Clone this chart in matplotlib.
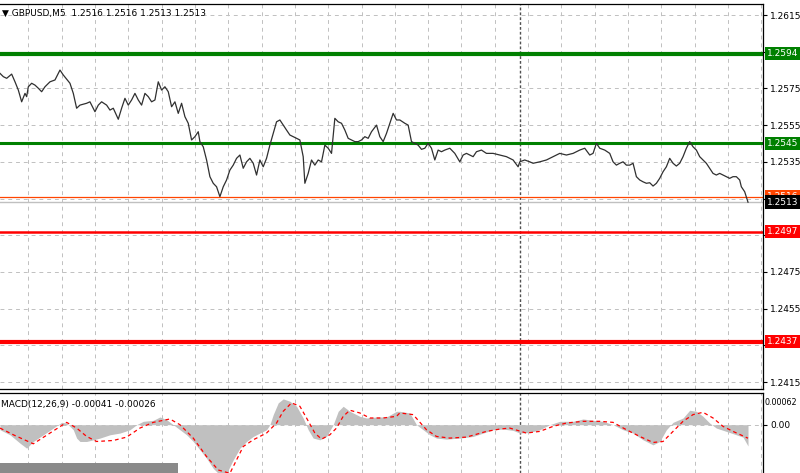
import matplotlib
matplotlib.use("Agg")
import matplotlib.pyplot as plt
from matplotlib.transforms import blended_transform_factory
from matplotlib.patches import Rectangle

# GBPUSD M5 close prices (bar index, price)
price_bar = [0, 2, 4, 7, 9, 11, 13, 15, 16, 17, 19, 21, 23, 25, 27, 30, 33, 34, 36, 38,
             42, 44, 46, 48, 52, 54, 57, 59, 61, 64, 66, 68, 71, 73, 75, 77, 79, 81, 83, 85,
             87, 89, 91, 93, 95, 97, 99, 101, 103, 105, 107, 109, 111, 113, 115, 117, 119, 120, 122, 124,
             126, 128, 130, 132, 134, 136, 138, 140, 142, 144, 146, 148, 150, 152, 154, 156, 158, 160, 162, 164,
             166, 168, 170, 172, 174, 176, 178, 180, 182, 183, 185, 187, 189, 191, 193, 195, 197, 199, 201, 203,
             205, 207, 209, 211, 213, 215, 217, 219, 221, 223, 226, 228, 230, 232, 234, 236, 238,
             240, 243, 245, 247, 249, 251, 253, 255, 257, 259, 261, 263, 265, 267, 270, 273, 276, 278, 280, 282,
             284, 286, 289, 292, 296, 300, 304, 308, 311, 312, 315, 318, 320, 324, 328, 332, 336, 340, 344, 348,
             351, 354, 356, 358, 360, 363, 366, 368, 370, 372, 374, 376, 378, 380, 382, 384, 386, 388, 390, 392,
             394, 396, 398, 400, 402, 404, 406, 408, 410, 412, 414, 416, 418, 420, 422, 424, 426, 428, 430, 432,
             434, 436, 438, 440, 442, 444, 445, 447, 449]
price = [1.25832, 1.25814, 1.25805, 1.25828, 1.25786, 1.25741, 1.25677, 1.25723, 1.25705, 1.25759,
         1.25778, 1.25768, 1.25751, 1.25732, 1.25759, 1.25786, 1.25796, 1.25814, 1.25850, 1.25823,
         1.25778, 1.25723, 1.25642, 1.25659, 1.25669, 1.25677, 1.25623, 1.25659, 1.25677, 1.25659,
         1.25632, 1.25642, 1.25582, 1.25642, 1.25696, 1.25659, 1.25687, 1.25723, 1.25687, 1.25659,
         1.25723, 1.25705, 1.25677, 1.25687, 1.25786, 1.25741, 1.25759, 1.25732, 1.25650, 1.25677,
         1.25614, 1.25669, 1.25596, 1.25560, 1.25469, 1.25487, 1.25514, 1.25460, 1.25432, 1.25360,
         1.25269, 1.25233, 1.25214, 1.25160, 1.25214, 1.25251, 1.25305, 1.25332, 1.25369, 1.25387,
         1.25315, 1.25350, 1.25369, 1.25342, 1.25278, 1.25360, 1.25323, 1.25369, 1.25441, 1.25505,
         1.25568, 1.25578, 1.25550, 1.25523, 1.25496, 1.25487, 1.25478, 1.25469, 1.25378, 1.25233,
         1.25287, 1.25360, 1.25332, 1.25360, 1.25350, 1.25441, 1.25424, 1.25396, 1.25587, 1.25568,
         1.25560, 1.25523, 1.25478, 1.25469, 1.25460, 1.25460, 1.25469, 1.25487, 1.25478, 1.25514,
         1.25550, 1.25487, 1.25460, 1.25505, 1.25560, 1.25614, 1.25578,
         1.25578, 1.25560, 1.25550, 1.25460, 1.25451, 1.25441, 1.25418, 1.25424, 1.25451, 1.25424,
         1.25360, 1.25414, 1.25405, 1.25414, 1.25424, 1.25396, 1.25350, 1.25387, 1.25396, 1.25387,
         1.25378, 1.25405, 1.25414, 1.25396, 1.25396, 1.25387, 1.25378, 1.25360, 1.25323, 1.25350,
         1.25360, 1.25350, 1.25342, 1.25350, 1.25360, 1.25378, 1.25396, 1.25387, 1.25396, 1.25414,
         1.25424, 1.25387, 1.25396, 1.25451, 1.25424, 1.25414, 1.25396, 1.25350, 1.25332, 1.25342,
         1.25350, 1.25332, 1.25332, 1.25342, 1.25269, 1.25251, 1.25241, 1.25233, 1.25236, 1.25218,
         1.25233, 1.25260, 1.25296, 1.25323, 1.25369, 1.25342, 1.25327, 1.25342, 1.25378, 1.25424,
         1.25460, 1.25432, 1.25414, 1.25378, 1.25360, 1.25342, 1.25315, 1.25287, 1.25278, 1.25287,
         1.25278, 1.25269, 1.25260, 1.25269, 1.25269, 1.25251, 1.25214, 1.25187, 1.25130]

# MACD(12,26,9) main histogram and signal line (in 1e-5)
hist_bar = [0, 6, 12, 16, 20, 26, 32, 37, 40, 44, 46, 48, 52, 56, 60, 66, 72, 78, 82, 86,
            92, 96, 100, 104, 108, 112, 116, 120, 124, 128, 132, 136, 140, 144, 148, 152, 156, 160, 162, 164,
            167, 170, 174, 178, 182, 185, 188, 192, 196, 200, 203, 206, 210, 216, 220, 226, 232, 238,
            240, 246, 250, 254, 258, 262, 268, 276, 284, 290, 296, 302, 308, 312, 318, 324, 330, 336,
            344, 350, 356, 362, 368, 374, 380, 386, 392, 396, 400, 404, 410, 414, 418, 422, 426, 430,
            436, 442, 446, 449]
macd_hist = [-9.7, -19.4, -35.5, -45.2, -32.3, -19.4, -6.5, 4.5, 3.2, -9.7,
             -25.8, -32.3, -32.3, -29.1, -25.8, -19.4, -16.1, -9.7, 0.0, 6.5,
             8.4, 14.9, 9.7, 0.0, -9.7, -19.4, -32.3, -48.4, -64.6, -84.0,
             -96.9, -93.6, -67.8, -45.2, -32.3, -22.6, -16.1, -9.7, 0.0, 19.4,
             42.0, 49.7, 45.2, 35.5, 12.9, -9.7, -25.8, -29.1, -22.6, 0.0,
             25.8, 35.5, 25.8, 16.1, 12.9, 14.9, 14.9, 25.8,
             25.8, 22.6, 0.0, -9.7, -19.4, -25.8, -27.8, -25.8, -22.6, -16.1,
             -9.7, -8.4, -11.0, -16.1, -14.9, -9.7, 0.0, 6.5, 6.5, 11.0,
             8.4, 6.5, 0.0, -9.7, -16.1, -29.1, -38.8, -32.3, -9.7, 4.5,
             12.9, 27.8, 25.8, 16.1, 3.2, -6.5, -12.9, -19.4, -23.9, -41.0]
signal_bar = [0, 8, 20, 30, 40, 46, 52, 58, 68, 76, 84, 92, 102, 108, 116, 124, 131, 138, 142, 146,
              152, 160, 166, 170, 175, 180, 184, 189, 193, 198, 202, 206, 210, 216, 222, 230, 238,
              240, 248, 256, 262, 270, 280, 292, 300, 306, 316, 324, 332, 340, 350, 360, 368, 376, 384,
              392, 398, 404, 410, 416, 422, 428, 434, 440, 449]
macd_signal = [-6.5, -19.4, -36.8, -16.1, 4.5, -6.5, -22.6, -32.3, -30.4, -23.9,
               -6.5, 4.5, 11.0, 0.0, -25.8, -61.4, -87.2, -93.6, -67.8, -42.0,
               -29.1, -16.1, 3.2, 25.8, 42.0, 35.5, 12.9, -16.1, -27.8, -19.4,
               -6.5, 16.1, 27.8, 22.6, 12.9, 12.9, 16.1,
               22.6, 19.4, -9.7, -22.6, -25.8, -23.9, -12.9, -8.4, -6.5, -16.1,
               -12.9, -3.2, 3.2, 6.5, 6.5, 4.5, -9.7, -22.6, -34.2, -32.3,
               -12.9, 6.5, 19.4, 23.9, 12.9, -3.2, -12.9, -26.0]
macd_hist = [v * 1e-5 for v in macd_hist]
macd_signal = [v * 1e-5 for v in macd_signal]

levels = [1.2594, 1.2545, 1.2516, 1.2497, 1.2437]
level_colors = ["#008000", "#008000", "#ff4500", "#ff0000", "#ff0000"]
level_widths = [3.0, 2.2, 0.9, 1.8, 3.0]
bid = 1.2513
price_ticks = [1.2415, 1.2435, 1.2455, 1.2475, 1.2495, 1.2515,
               1.2535, 1.2555, 1.2575, 1.2595, 1.2615]
# tick labels hidden under the level price boxes
covered_ticks = [1.2435, 1.2495, 1.2515, 1.2595]
grid_bars = [17 + 20 * i for i in range(23)]
separator_bar = 312

W, H = 800, 473
fig = plt.figure(figsize=(8, 4.73), dpi=100)
ax = fig.add_axes([0, 1 - 389 / H, 763 / W, (389 - 4) / H])
ax2 = fig.add_axes([0, 0, 763 / W, 1 - 392.5 / H])

grid_kw = dict(color="#c0c0c0", lw=0.7, ls=(0, (4, 4)), zorder=0)
sep_kw = dict(color="#505050", lw=1.0, ls=(0, (2, 1.5)), zorder=1)

# ---- main price window ----
for t in price_ticks:
    ax.axhline(t, **grid_kw)
for b in grid_bars:
    ax.axvline(b, **grid_kw)
    ax2.axvline(b, **grid_kw)
ax.axvline(separator_bar, **sep_kw)
ax2.axvline(separator_bar, **sep_kw)

for lv, c, w in zip(levels, level_colors, level_widths):
    ax.axhline(lv, color=c, lw=w, zorder=2)
ax.axhline(bid, color="#c0c0c0", lw=1.0, zorder=2)

ax.plot(price_bar, price, color="#303030", lw=0.9, zorder=3)

ax.set_xlim(0, 458)
ax.set_ylim(1.24112, 1.26210)
ax.set_xticks([])
ax.yaxis.tick_right()
ax.set_yticks(price_ticks)
ax.set_yticklabels(["" if t in covered_ticks else f"{t:.4f}" for t in price_ticks])
ax.tick_params(axis="y", direction="out", length=3, width=0.8, pad=2,
               labelsize=6.5, colors="black")
ax.spines["left"].set_visible(False)
for s in ["top", "right", "bottom"]:
    ax.spines[s].set_color("black")
    ax.spines[s].set_linewidth(0.9)

trans = blended_transform_factory(ax.transAxes, ax.transData)
for lv, c in zip(levels, level_colors):
    ax.text(1.005, lv, f"{lv:.4f}", transform=trans, ha="left", va="center",
            fontsize=6.5, color="white", clip_on=False, zorder=6,
            bbox=dict(boxstyle="square,pad=0.25", fc=c, ec="none"))
ax.text(1.005, bid, f"{bid:.4f}", transform=trans, ha="left", va="center",
        fontsize=6.5, color="white", clip_on=False, zorder=7,
        bbox=dict(boxstyle="square,pad=0.25", fc="black", ec="none"))

fig.text(2 / W, 1 - 13 / H, "\u25bc GBPUSD,M5  1.2516 1.2516 1.2513 1.2513",
         fontsize=6.5, va="center", ha="left", color="black")

# ---- MACD window ----
ax2.axhline(0, **grid_kw)
ax2.fill_between(hist_bar, 0, macd_hist, color="#c0c0c0", lw=0, zorder=2)
ax2.plot(signal_bar, macd_signal, color="#ff0000", lw=0.9, ls=(0, (3, 2.5)), zorder=3)
ax2.set_xlim(0, 458)
ax2.set_ylim(-0.00093, 0.00062)
ax2.set_xticks([])
ax2.yaxis.tick_right()
ax2.set_yticks([0.0])
ax2.set_yticklabels(["0.00"])
ax2.tick_params(axis="y", direction="out", length=3, width=0.8, pad=2,
                labelsize=6.5, colors="black")
ax2.spines["left"].set_visible(False)
ax2.spines["bottom"].set_visible(False)
for s in ["top", "right"]:
    ax2.spines[s].set_color("black")
    ax2.spines[s].set_linewidth(0.9)
ax2.text(1.002, 0.93, "0.00062", transform=ax2.transAxes, ha="left", va="top",
         fontsize=5.8, color="black", clip_on=False)

fig.text(1 / W, 1 - 404 / H, "MACD(12,26,9) -0.00041 -0.00026",
         fontsize=6.5, va="center", ha="left", color="black")

fig.patches.append(Rectangle((0, 0), 178 / W, 10 / H, transform=fig.transFigure,
                             fc="#8a8a8a", ec="none", zorder=10))

fig.savefig("out.png", dpi=100)
